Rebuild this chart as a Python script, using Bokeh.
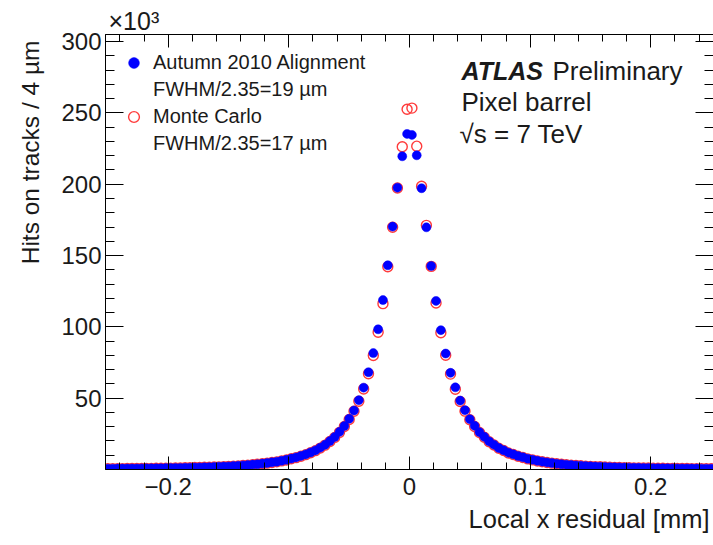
import numpy as np
from bokeh.plotting import figure
from bokeh.models import (Range1d, LinearAxis, FixedTicker, Label, Legend, LegendItem,
                          Title, CustomJSTickFormatter)
from bokeh.embed import file_html
from bokeh.resources import INLINE

# ---------------- data (hits per 4 um bin, in units of 10^3) ----------------
bin_width_mm = 0.004
bin_centers_right = np.round(np.arange(0.002, 0.2505, bin_width_mm), 3)   # 0.002 ... 0.250
bin_centers_left = -bin_centers_right[::-1]                                # -0.250 ... -0.002

# Autumn 2010 Alignment (data), left side -0.250 -> -0.002
data_left = [0.57, 0.59, 0.63, 0.64, 0.68, 0.70, 0.72, 0.77, 0.79, 0.82,
             0.88, 0.90, 0.97, 1.00, 1.08, 1.12, 1.21, 1.27, 1.37, 1.44,
             1.56, 1.64, 1.78, 1.89, 2.06, 2.19, 2.41, 2.58, 2.87, 3.08,
             3.42, 3.68, 4.12, 4.48, 5.03, 5.47, 6.13, 6.78, 7.63, 8.47,
             9.55, 10.6, 11.95, 13.4, 15.3, 17.3, 19.9, 22.8, 26.4, 30.5,
             35.6, 41.4, 48.6, 57.4, 68.2, 81.6, 98.3, 118.8, 143.2, 170.3,
             197.6, 219.6, 235.3]
# right side 0.002 -> 0.250
data_right = [234.6, 220.3, 197.2, 169.8, 142.7, 118.2, 97.7, 81.3, 67.8, 57.6,
              48.3, 41.6, 35.3, 30.6, 26.2, 22.9, 19.7, 17.4, 15.1, 13.5,
              11.8, 10.7, 9.45, 8.55, 7.57, 6.83, 6.08, 5.52, 4.97, 4.53,
              4.08, 3.72, 3.38, 3.12, 2.83, 2.62, 2.38, 2.22, 2.03, 1.91,
              1.76, 1.66, 1.54, 1.46, 1.35, 1.29, 1.19, 1.14, 1.06, 1.02,
              0.95, 0.92, 0.86, 0.84, 0.78, 0.77, 0.72, 0.71, 0.66, 0.65,
              0.61, 0.60, 0.57]

# Monte Carlo, left side -0.250 -> -0.002
mc_left = [0.56, 0.58, 0.61, 0.62, 0.66, 0.67, 0.72, 0.73, 0.78, 0.80,
           0.86, 0.88, 0.95, 0.98, 1.06, 1.10, 1.19, 1.25, 1.35, 1.42,
           1.54, 1.62, 1.76, 1.87, 2.03, 2.17, 2.38, 2.56, 2.81, 3.04,
           3.36, 3.64, 4.06, 4.44, 4.92, 5.38, 6.02, 6.68, 7.52, 8.33,
           9.32, 10.4, 11.72, 13.2, 15.02, 17.1, 19.62, 22.5, 26.05, 30.1,
           35.02, 40.8, 47.85, 56.4, 67.1, 79.9, 96.2, 116.3, 142.2, 169.9,
           197.4, 226.3, 252.6]
# right side 0.002 -> 0.250
mc_right = [253.4, 226.7, 198.6, 171.2, 142.4, 116.7, 95.9, 80.1, 66.9, 56.3,
            47.7, 40.9, 34.9, 30.2, 25.9, 22.6, 19.5, 17.2, 14.9, 13.3,
            11.6, 10.5, 9.25, 8.4, 7.45, 6.75, 5.96, 5.43, 4.87, 4.48,
            4.02, 3.68, 3.33, 3.08, 2.78, 2.59, 2.35, 2.2, 2.0, 1.9,
            1.74, 1.64, 1.52, 1.44, 1.33, 1.27, 1.17, 1.12, 1.04, 1.0,
            0.93, 0.9, 0.84, 0.82, 0.76, 0.75, 0.7, 0.69, 0.64, 0.63,
            0.59, 0.59, 0.55]

x_major_ticks = [-0.2, -0.1, 0.0, 0.1, 0.2]
y_major_ticks = [50, 100, 150, 200, 250, 300]

label_data = "Autumn 2010 Alignment"
label_data_res = "FWHM/2.35=19 µm"
label_mc = "Monte Carlo"
label_mc_res = "FWHM/2.35=17 µm"

x_all = np.concatenate([bin_centers_left, bin_centers_right])
data_all = np.concatenate([data_left, data_right])
mc_all = np.concatenate([mc_left, mc_right])

# ---------------- figure ----------------
X0, X1 = -0.252, 0.252
Y0, Y1 = 0.0, 305.0
FL, FT, FW, FH = 104, 34, 608, 435   # frame left/top/width/height in page px
FONT = "Liberation Sans"
TXT = "#1a1a1a"

def sx(px):
    return X0 + (px - FL) / FW * (X1 - X0)

def sy(py):
    return Y0 + (FT + FH - py) / FH * (Y1 - Y0)

p = figure(frame_width=FW, frame_height=FH, output_backend="svg", toolbar_location=None,
           x_range=Range1d(X0, X1), y_range=Range1d(Y0, Y1),
           min_border_left=FL, min_border_top=FT, min_border_right=1,
           min_border_bottom=545 - FT - FH)
p.xgrid.visible = False
p.ygrid.visible = False
p.outline_line_color = "black"
p.background_fill_color = "white"
p.border_fill_color = "white"

x_minor = [round(v, 2) for v in np.arange(-0.24, 0.2401, 0.02)]
y_minor = list(range(10, 301, 10))
xt = FixedTicker(ticks=x_major_ticks, minor_ticks=x_minor)
yt = FixedTicker(ticks=y_major_ticks, minor_ticks=y_minor)

def style_axis(ax, ticker, major, minor, labels=True):
    ax.ticker = ticker
    ax.axis_line_color = "black"
    ax.major_tick_line_color = "black"
    ax.minor_tick_line_color = "black"
    ax.major_tick_in = major
    ax.major_tick_out = 0
    ax.minor_tick_in = minor
    ax.minor_tick_out = 0
    if labels:
        ax.major_label_text_font = FONT
        ax.major_label_text_font_size = "24px"
        ax.major_label_text_color = TXT
    else:
        ax.formatter = CustomJSTickFormatter(code="return ''")
        ax.major_label_standoff = 0

style_axis(p.xaxis[0], xt, 13, 7)
p.xaxis[0].major_label_standoff = 8
p.xaxis[0].major_label_overrides = {-0.2: "\u22120.2", -0.1: "\u22120.1", 0.0: "0", 0.1: "0.1", 0.2: "0.2"}
style_axis(p.yaxis[0], yt, 18, 9)
p.yaxis[0].major_label_standoff = 4

top_ax = LinearAxis()
style_axis(top_ax, xt, 13, 7, labels=False)
p.add_layout(top_ax, "above")
right_ax = LinearAxis()
style_axis(right_ax, yt, 18, 9, labels=False)
p.add_layout(right_ax, "right")

# ---------------- points ----------------
r_mc = p.scatter(x_all, mc_all, marker="circle", size=10, fill_color=None,
                 line_color="#ff3b3b", line_width=1.4)
r_data = p.scatter(x_all, data_all, marker="circle", size=9, fill_color="#0000ff",
                   line_color="#0000ff", line_width=0.5)
r_blank1 = p.scatter(x=[], y=[], marker="circle", size=0, alpha=0)
r_blank2 = p.scatter(x=[], y=[], marker="circle", size=0, alpha=0)

legend = Legend(items=[LegendItem(label=label_data, renderers=[r_data]),
                       LegendItem(label=label_data_res, renderers=[r_blank1]),
                       LegendItem(label=label_mc, renderers=[r_mc]),
                       LegendItem(label=label_mc_res, renderers=[r_blank2])],
                location=(15, FH - 15 - 4 * 27),
                glyph_width=27, glyph_height=27, label_height=27, spacing=0,
                label_standoff=6, padding=0, margin=0,
                label_text_font=FONT, label_text_font_size="20px",
                label_text_color=TXT, label_text_baseline="middle",
                border_line_color=None, background_fill_alpha=0)
p.add_layout(legend)

# ---------------- texts inside the frame ----------------
def add_label(text, px, py, size, align="left", style="normal"):
    p.add_layout(Label(x=sx(px), y=sy(py), text=text, text_font=FONT, text_font_size=size,
                       text_font_style=style, text_align=align, text_baseline="middle",
                       text_color=TXT))

add_label("ATLAS", 460, 70, "25px", style="bold italic")
add_label("Preliminary", 551, 70, "26px")
add_label("Pixel barrel", 460, 101, "26px")
add_label("\u221as = 7 TeV", 458, 133, "26px")

# ---------------- texts outside the frame (titles in side panels) ----------------
p.add_layout(Title(text="\u00d710\u00b3", align="left", offset=3, standoff=0,
                   text_font=FONT, text_font_size="25px", text_font_style="normal",
                   text_color=TXT), "above")
p.add_layout(Title(text="Local x residual [mm]", align="right", offset=4, standoff=11,
                   text_font=FONT, text_font_size="25.5px", text_font_style="normal",
                   text_color=TXT), "below")
p.add_layout(Title(text="Hits on tracks / 4 µm", align="right", offset=6, standoff=29,
                   text_font=FONT, text_font_size="24.5px", text_font_style="normal",
                   text_color=TXT), "left")

open("out.html", "w").write(file_html(p, INLINE))
